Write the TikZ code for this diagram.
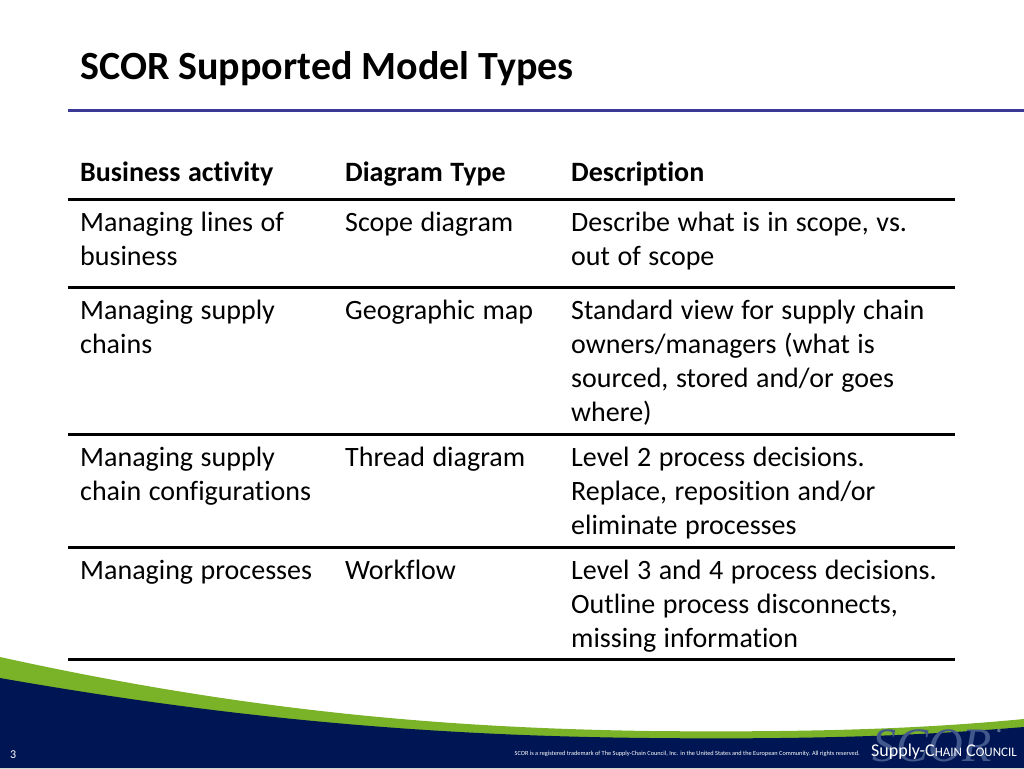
\documentclass[tikz,border=0pt]{standalone}
\usepackage{fontspec}
\setmainfont{Carlito}[Ligatures=CommonOff]
\newfontfamily\logoserif{Liberation Serif}
\definecolor{titleblue}{RGB}{58,58,150}
\definecolor{footnavy}{RGB}{0,22,84}
\definecolor{footgreen}{RGB}{122,178,40}
\definecolor{logogrey}{RGB}{66,88,140}
\tikzset{
  cell/.style={anchor=base west, inner sep=0pt, text width=#1,
    font=\fontsize{28}{34.3}\selectfont,
    execute at begin node={\spaceskip=0.27em\relax}},
  cell/.default=250pt,
  head/.style={cell, font=\fontsize{28}{34.3}\selectfont\bfseries},
  rule/.style={line width=3pt, black},
}

\begin{document}
\begin{tikzpicture}[x=1pt, y=-1pt]
\fill[white] (0,0) rectangle (1024,768);
\useasboundingbox (0,0) rectangle (1024,768);

% title
\node (title) [anchor=base west, inner sep=0pt, font=\fontsize{40}{48}\selectfont\bfseries] at (80,79) {SCOR Supported Model Types};
\draw[line width=3pt, titleblue] (68,110) -- (1024,110);

% table
\node (B0) [head] at (80,181) {Business activity};
\node (D0) [head=220pt] at (345,181) {Diagram Type};
\node (S0) [head=390pt] at (571,181) {Description};

\node (B1) [cell] at (80,231) {Managing lines of\\business};
\node (D1) [cell=220pt] at (345,231) {Scope diagram};
\node (S1) [cell=390pt] at (571,231) {Describe what is in scope, vs.\\out of scope};

\node (B2) [cell] at (80,319) {Managing supply\\chains};
\node (D2) [cell=220pt] at (345,319) {Geographic map};
\node (S2) [cell=390pt] at (571,319) {Standard view for supply chain\\owners/managers (what is\\sourced, stored and/or goes\\where)};

\node (B3) [cell] at (80,466) {Managing supply\\chain configurations};
\node (D3) [cell=220pt] at (345,466) {Thread diagram};
\node (S3) [cell=390pt] at (571,466) {Level 2 process decisions.\\Replace, reposition and/or\\eliminate processes};

\node (B4) [cell] at (80,579) {Managing processes};
\node (D4) [cell=220pt] at (345,579) {Workflow};
\node (S4) [cell=390pt] at (571,579) {Level 3 and 4 process decisions.\\Outline process disconnects,\\missing information};

\foreach \y in {199,287,434,547,659}
  \draw[rule] (68,\y) -- (955,\y);

% footer
\fill[footgreen] (0,657) .. controls (250,712) and (450,728) .. (650,731)
  .. controls (850,733) and (950,726) .. (1024,719) -- (1024,768) -- (0,768) -- cycle;
\fill[footnavy] (0,678) .. controls (250,722) and (450,736) .. (650,738)
  .. controls (850,740) and (950,733) .. (1024,727) -- (1024,768) -- (0,768) -- cycle;

\node (pgno) [anchor=base west, inner sep=0pt, text=white, font=\fontsize{12}{12}\selectfont] at (10,758) {3};
\node (tm) [anchor=base east, inner sep=0pt, text=white, font=\fontsize{6.3}{7}\selectfont] at (860,755) {SCOR is a registered trademark of The Supply-Chain Council, Inc. in the United States and the European Community. All rights reserved.};
\node (scor) [anchor=base west, inner sep=0pt, text depth=0pt, text=logogrey, font=\logoserif\itshape\fontsize{48}{48}\selectfont] at (872,761) {SCOR};
\node (reg) [anchor=north west, inner sep=0pt, text=white!85!footnavy, font=\fontsize{10}{10}\selectfont] at (997,729) {\textregistered};
\node (scc) [anchor=base west, inner sep=0pt, text=white, font=\fontsize{18}{18}\selectfont] at (871,756) {Supply-C{\fontsize{13}{13}\selectfont HAIN} C{\fontsize{13}{13}\selectfont OUNCIL}};
\end{tikzpicture}
\end{document}
